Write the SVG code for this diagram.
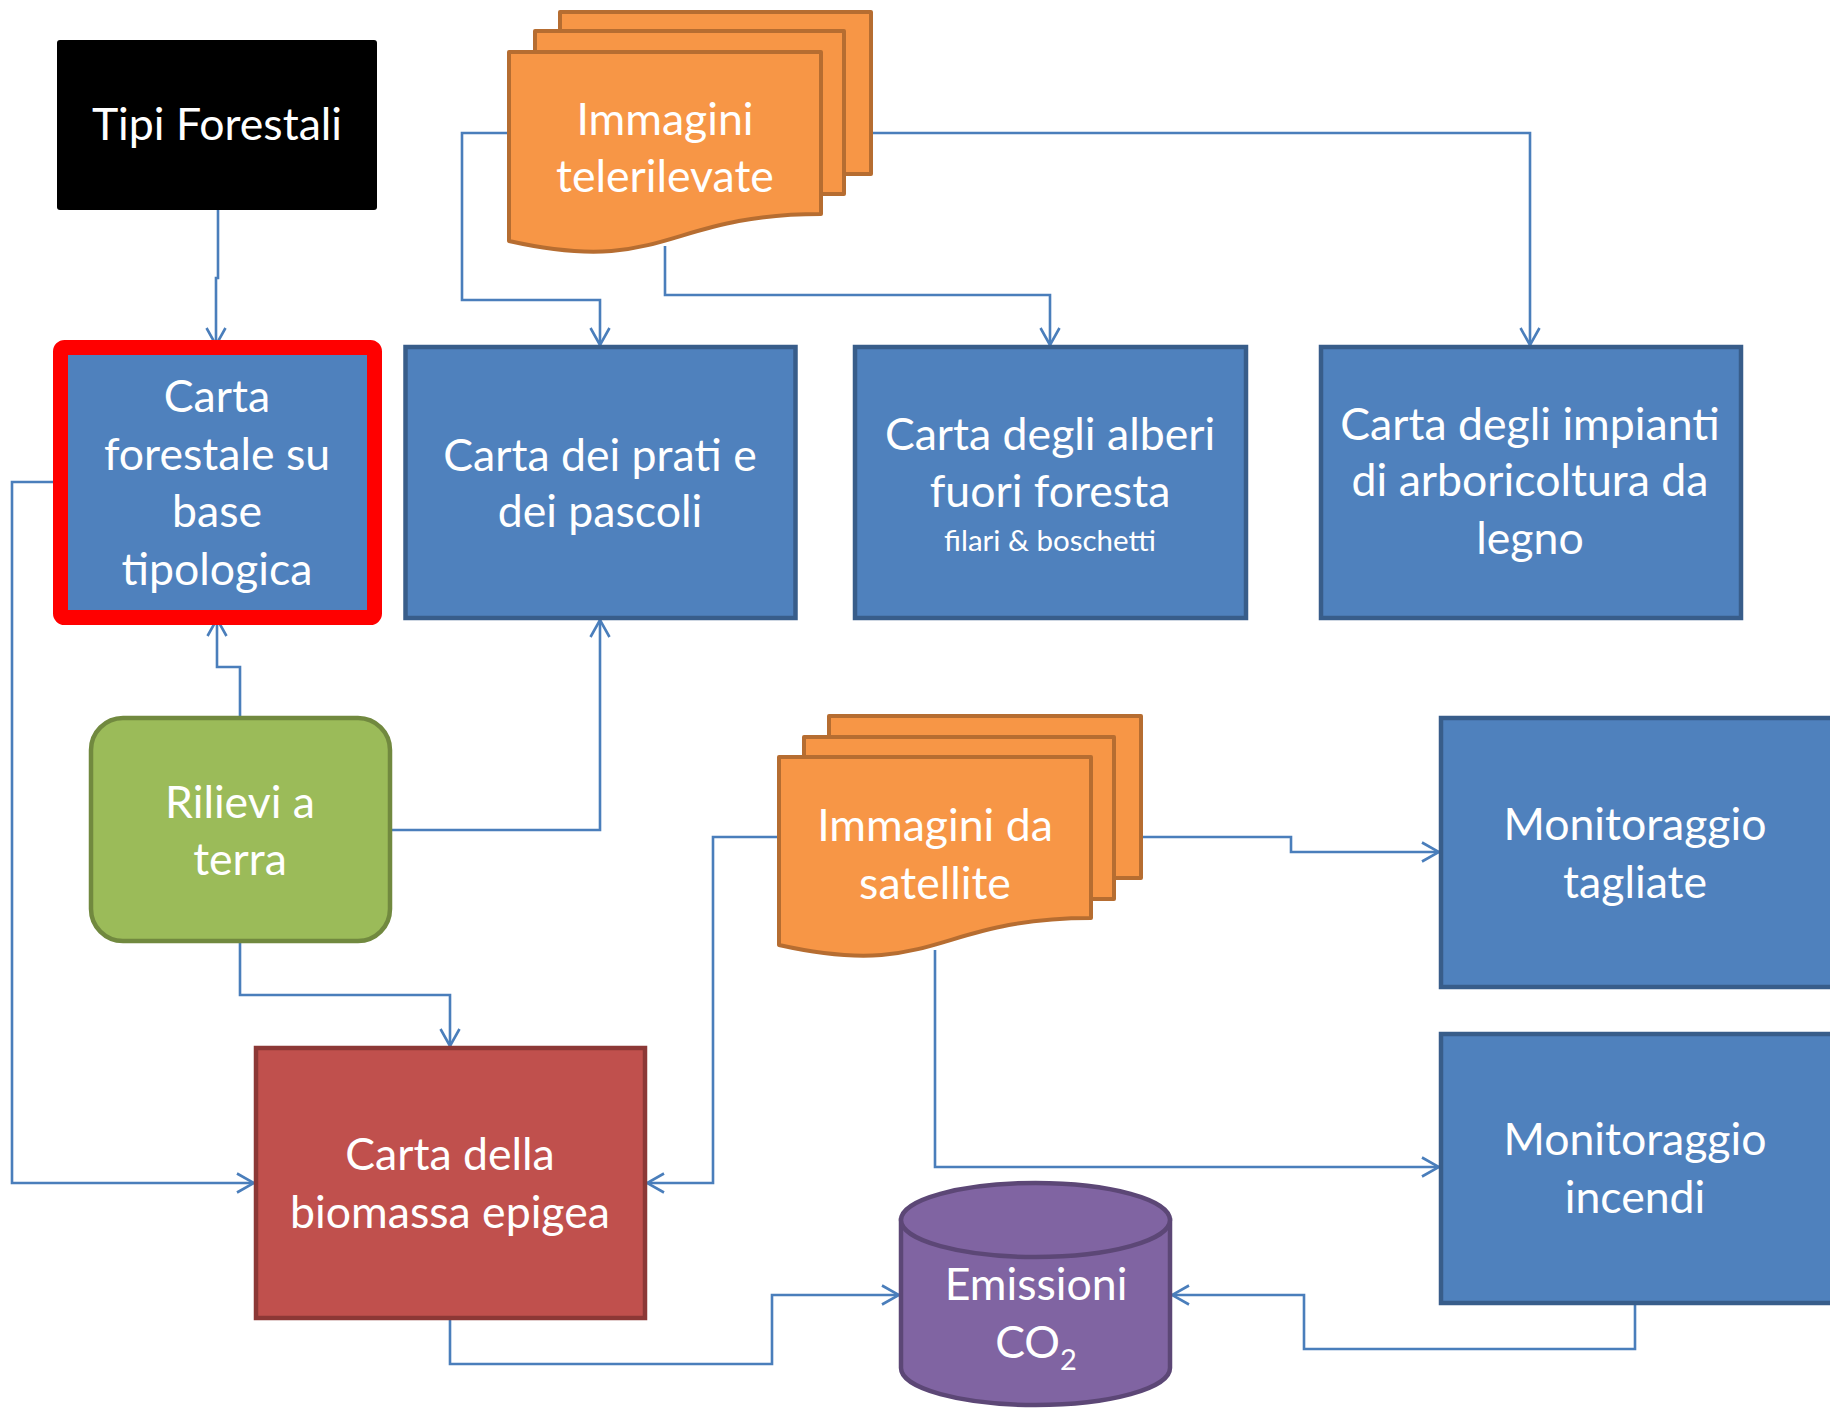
<svg xmlns="http://www.w3.org/2000/svg" width="1830" height="1408" viewBox="0 0 1830 1408">
<style>
.t{font-family:Lato,"Liberation Sans",sans-serif;font-size:44.6px;fill:#fff;text-anchor:middle}
.s{font-size:29.5px}
.sub{font-size:29px}
.bx{fill:#4F81BD;stroke:#385D8A;stroke-width:4.5}
.doc{fill:#F79646;stroke:#B66D31;stroke-width:4;stroke-linejoin:round}
.c{fill:none;stroke:#4A7EBB;stroke-width:2.6;marker-end:url(#arr)}
</style>
<defs>
<marker id="arr" viewBox="-20 -12 22 24" refX="0" refY="0" markerWidth="22" markerHeight="24" markerUnits="userSpaceOnUse" orient="auto">
<path d="M-17,-9.5 L0,0 L-17,9.5" fill="none" stroke="#4A7EBB" stroke-width="2.6"/>
</marker>
</defs>
<rect width="1830" height="1408" fill="#fff"/>
<g id="connectors">
<path class="c" d="M218,210 V278 H216 V345"/>
<path class="c" d="M509,133 H462 V300 H600 V345"/>
<path class="c" d="M665,246 V295 H1050 V345"/>
<path class="c" d="M871,133 H1530 V345"/>
<path class="c" d="M240,716 V667 H217 V619"/>
<path class="c" d="M392,830 H600 V620"/>
<path class="c" d="M60,482 H12 V1183 H254"/>
<path class="c" d="M240,943 V995 H450 V1046"/>
<path class="c" d="M779,837 H713 V1183 H647"/>
<path class="c" d="M450,1319 V1364 H772 V1295 H899"/>
<path class="c" d="M1141,837 H1291 V852 H1439"/>
<path class="c" d="M935,950 V1167 H1439"/>
<path class="c" d="M1635,1305 V1349 H1304 V1295 H1172"/>
</g>
<g id="tipi">
<rect x="57" y="40" width="320" height="170" rx="3" fill="#000"/>
<text class="t" x="217" y="140">Tipi Forestali</text>
</g>
<g id="telerilevate">
<rect class="doc" x="560" y="12" width="311" height="162"/>
<rect class="doc" x="535" y="31" width="309" height="163"/>
<path class="doc" d="M509,52 H821 V214 C665,214 665,276 509,241 Z"/>
<text class="t" x="665" y="135">Immagini</text>
<text class="t" x="665" y="192">telerilevate</text>
</g>
<g id="forestale">
<rect x="60.5" y="347.5" width="314" height="270" rx="4" fill="#4F81BD" stroke="#FF0000" stroke-width="15"/>
<text class="t" x="217" y="412">Carta</text>
<text class="t" x="217" y="470">forestale su</text>
<text class="t" x="217" y="527">base</text>
<text class="t" x="217" y="585">tipologica</text>
</g>
<g id="prati">
<rect class="bx" x="405.5" y="347" width="390" height="271"/>
<text class="t" x="600" y="471">Carta dei prati e</text>
<text class="t" x="600" y="527">dei pascoli</text>
</g>
<g id="alberi">
<rect class="bx" x="855" y="347" width="391" height="271"/>
<text class="t" x="1050" y="450">Carta degli alberi</text>
<text class="t" x="1050" y="507">fuori foresta</text>
<text class="t s" x="1050" y="551">filari &amp; boschetti</text>
</g>
<g id="impianti">
<rect class="bx" x="1321" y="347" width="420" height="271"/>
<text class="t" x="1530" y="440">Carta degli impianti</text>
<text class="t" x="1530" y="496">di arboricoltura da</text>
<text class="t" x="1530" y="554">legno</text>
</g>
<g id="rilievi">
<rect x="91" y="718" width="299" height="223" rx="32" fill="#9BBB59" stroke="#71893F" stroke-width="4.5"/>
<text class="t" x="240" y="818">Rilievi a</text>
<text class="t" x="240" y="875">terra</text>
</g>
<g id="satellite">
<rect class="doc" x="829" y="716" width="312" height="162"/>
<rect class="doc" x="804" y="737" width="310" height="162"/>
<path class="doc" d="M779,757 H1091 V918 C935,918 935,980 779,945 Z"/>
<text class="t" x="935" y="841">Immagini da</text>
<text class="t" x="935" y="899">satellite</text>
</g>
<g id="tagliate">
<rect class="bx" x="1441" y="718" width="392" height="269"/>
<text class="t" x="1635" y="840">Monitoraggio</text>
<text class="t" x="1635" y="898">tagliate</text>
</g>
<g id="incendi">
<rect class="bx" x="1441" y="1034" width="392" height="269"/>
<text class="t" x="1635" y="1155">Monitoraggio</text>
<text class="t" x="1635" y="1213">incendi</text>
</g>
<g id="biomassa">
<rect x="256" y="1048" width="389" height="270" fill="#C0504D" stroke="#8C3836" stroke-width="4.5"/>
<text class="t" x="450" y="1170">Carta della</text>
<text class="t" x="450" y="1228">biomassa epigea</text>
</g>
<g id="emissioni">
<path d="M901,1220 V1368 A134.5,37 0 0 0 1170,1368 V1220 Z" fill="#8064A2" stroke="#5C4776" stroke-width="4.5"/>
<ellipse cx="1035.5" cy="1220" rx="134.5" ry="37" fill="#8064A2" stroke="#5C4776" stroke-width="4.5"/>
<text class="t" x="1036" y="1300">Emissioni</text>
<text class="t" x="1036" y="1358">CO<tspan class="sub" dy="12">2</tspan></text>
</g>
</svg>
